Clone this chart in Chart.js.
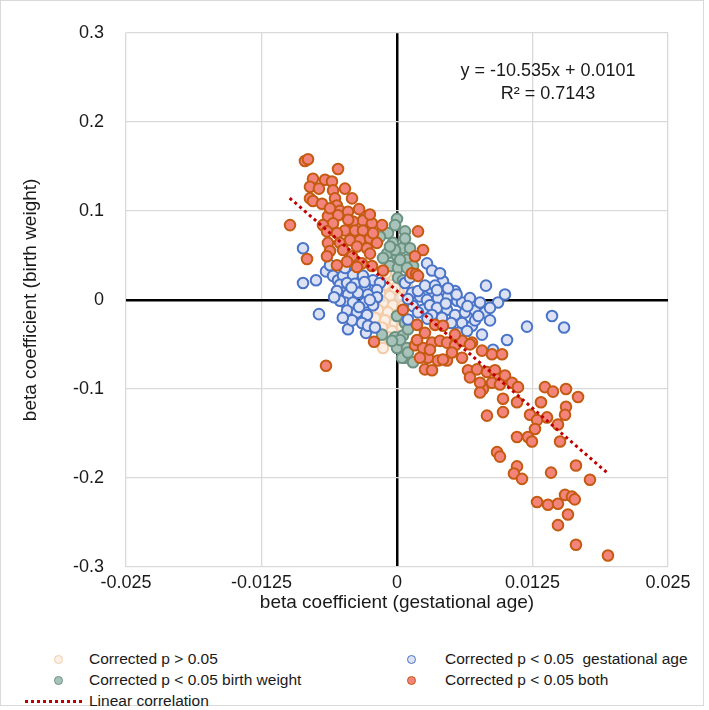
<!DOCTYPE html>
<html><head><meta charset="utf-8">
<script src="https://cdn.jsdelivr.net/npm/chart.js@4.4.1/dist/chart.umd.min.js"></script>
<style>
html,body{margin:0;padding:0;background:#fff;}
#wrap{position:relative;width:709px;height:710px;font-family:"Liberation Sans",Arial,sans-serif;color:#1a1a1a;overflow:hidden;}
#frame{position:absolute;left:0;top:0;width:704px;height:706px;border:1px solid #d9d9d9;box-sizing:border-box;}
canvas{position:absolute;left:0;top:0;}
.lg{position:absolute;font-size:15.5px;line-height:18px;white-space:pre;}
.mk{position:absolute;width:9px;height:9px;border-radius:50%;border:1.6px solid;box-sizing:border-box;}
.dl{position:absolute;left:25px;width:57px;height:0;border-top:3px dotted #C00000;}
</style></head>
<body><div id="wrap"><div id="frame"></div><canvas id="c" width="709" height="640"></canvas>
<div id="legend"></div>
</div>
<script>
// ---- data ----
const xTicks = [-0.025, -0.0125, 0, 0.0125, 0.025];
const xTickLabels = ['-0.025', '-0.0125', '0', '0.0125', '0.025'];
const yTicks = [-0.3, -0.2, -0.1, 0, 0.1, 0.2, 0.3];
const yTickLabels = ['-0.3', '-0.2', '-0.1', '0', '0.1', '0.2', '0.3'];
const xTitle = 'beta coefficient (gestational age)';
const yTitle = 'beta coefficient (birth weight)';
const seriesNames = ['Corrected p > 0.05', 'Corrected p < 0.05 birth weight', 'Corrected p < 0.05  gestational age', 'Corrected p < 0.05 both', 'Linear correlation'];
const trendSlope = -10.535;
const trendIntercept = 0.0101;
const trendR2 = 0.7143;
const trendX = [-0.0099, 0.0194];

const notSigPts = [
[-0.00046,0.028],[0.00028,0.021],[-0.00111,0.017],[-0.00018,0.013],[0.00074,0.010],[-0.00157,0.008],
[-0.00065,0.004],[0.00028,0.002],[-0.00129,-0.003],[-0.00037,-0.006],[0.00055,-0.007],[-0.00175,-0.011],
[-0.00083,-0.014],[0.00009,-0.017],[-0.00111,-0.023],[-0.00018,-0.026],[-0.00138,-0.031],[-0.00046,-0.035],
[-0.00083,-0.042],[0.00009,-0.046],[-0.00157,-0.048],[0.00120,-0.003],[-0.00203,-0.001],[-0.00175,0.016],
[0.00101,0.013],[-0.00203,-0.020],[-0.00129,-0.054],[0.00046,-0.031],[-0.00101,0.030]
];
const birthWeightPts = [
[0.00000,0.091],[0.00074,0.077],[-0.00083,0.075],[-0.00157,0.071],[0.00046,0.058],[-0.00037,0.064],
[-0.00092,0.052],[0.00000,0.049],[0.00092,0.045],[-0.00065,0.038],[0.00009,0.036],[0.00148,0.038],
[-0.00138,-0.039],[0.00000,-0.018],[0.00074,-0.026],[-0.00018,-0.042],[0.00055,-0.040],[0.00000,-0.054],
[0.00074,-0.065],[0.00148,-0.070],[-0.00018,0.084],[-0.00018,0.056],[-0.00065,0.060],[0.00028,0.045],
[-0.00129,0.047],[0.00092,0.036],[0.00101,-0.033],[0.00028,-0.045],[0.00009,0.025],[0.00055,0.022],
[0.00092,-0.054],[0.00046,-0.065],[0.00101,-0.059],[-0.00046,-0.046],[0.00074,0.069],[0.00120,0.058]
];
const gestAgePts = [
[-0.00867,0.058],[-0.00867,0.019],[-0.00747,0.022],[-0.00655,0.032],[-0.00720,-0.016],[-0.00452,-0.033],
[-0.00286,-0.037],[-0.00590,0.027],[-0.00544,0.022],[-0.00498,0.027],[-0.00406,0.028],[-0.00314,0.027],
[-0.00221,0.022],[-0.00157,0.019],[-0.00526,0.017],[-0.00461,0.019],[-0.00387,0.018],[-0.00295,0.016],
[-0.00185,0.011],[-0.00507,0.008],[-0.00452,0.006],[-0.00360,0.008],[-0.00268,0.006],[-0.00185,0.003],
[-0.00480,-0.003],[-0.00406,-0.003],[-0.00295,-0.003],[-0.00221,-0.006],[-0.00461,-0.012],[-0.00369,-0.014],
[-0.00277,-0.017],[-0.00415,-0.023],[-0.00323,-0.026],[-0.00268,-0.029],[-0.00203,-0.031],[-0.00554,0.010],
[-0.00618,0.039],[-0.00480,0.036],[-0.00526,-0.001],[0.00138,0.008],[0.00212,0.004],[0.00277,0.000],
[0.00148,-0.007],[0.00240,-0.011],[0.00101,-0.022],[0.00101,0.001],[0.00194,0.010],[0.00304,0.013],
[0.00378,0.002],[0.00470,0.004],[0.00554,-0.001],[0.00194,-0.014],[0.00304,-0.006],[0.00369,-0.009],
[0.00461,-0.011],[0.00535,-0.017],[0.00627,-0.014],[0.00720,-0.012],[0.00812,-0.014],[0.00323,-0.017],
[0.00415,-0.020],[0.00600,-0.026],[0.00692,-0.029],[0.00784,-0.039],[0.00720,-0.023],[0.00932,-0.003],
[0.00996,0.006],[0.01015,-0.045],[0.00563,-0.037],[0.00646,-0.035],[0.00277,0.041],[0.00323,0.033],
[0.00424,0.021],[0.00535,0.010],[0.00258,0.016],[0.00351,0.016],[0.00470,0.013],[0.01430,-0.018],
[0.01541,-0.031],[0.01199,-0.030],[0.00886,-0.056],[0.00858,-0.009],[0.00600,-0.003],[0.00397,0.030],
[0.00369,0.011],[0.00673,0.002],[0.00766,-0.003],[0.00858,-0.023],[0.00074,0.019],[0.00120,0.025],
[0.00821,0.016],[-0.00580,0.003],[-0.00420,0.014],[-0.00350,-0.008],[-0.00250,0.000],[-0.00300,0.020],
[-0.00500,-0.020],[0.00450,-0.004],[0.00550,0.006],[0.00650,-0.007],[0.00750,-0.018],[0.00280,-0.021],
[0.00500,-0.026]
];
const bothPts = [
[-0.00987,0.084],[-0.00849,0.156],[-0.00821,0.158],[-0.00544,0.147],[-0.00775,0.136],[-0.00803,0.127],
[-0.00664,0.135],[-0.00600,0.133],[-0.00803,0.114],[-0.00775,0.111],[-0.00590,0.123],[-0.00572,0.114],
[-0.00554,0.106],[-0.00526,0.100],[-0.00452,0.099],[-0.00544,0.095],[-0.00637,0.094],[-0.00590,0.086],
[-0.00683,0.084],[-0.00295,0.094],[-0.00314,0.089],[-0.00231,0.086],[-0.00406,0.088],[-0.00480,0.078],
[-0.00387,0.078],[-0.00314,0.078],[-0.00646,0.077],[-0.00554,0.075],[-0.00434,0.067],[-0.00341,0.067],
[-0.00249,0.069],[-0.00185,0.064],[-0.00637,0.064],[-0.00526,0.064],[-0.00369,0.060],[-0.00277,0.058],
[-0.00830,0.046],[-0.00618,0.055],[-0.00498,0.056],[-0.00249,0.052],[-0.00646,0.049],[-0.00554,0.039],
[-0.00415,0.049],[-0.00323,0.041],[-0.00231,0.038],[-0.00129,0.033],[-0.00461,0.043],[-0.00369,0.037],
[-0.00221,0.075],[-0.00138,0.084],[-0.00720,0.125],[-0.00480,0.125],[-0.00415,0.114],[-0.00692,0.108],
[-0.00618,0.103],[-0.00350,0.102],[-0.00250,0.096],[-0.00450,0.090],
[0.00194,0.077],[0.00240,0.056],[0.00166,0.049],[0.00138,0.030],[0.00175,0.029],[0.00194,0.027],
[0.00055,-0.011],[-0.00212,-0.047],[-0.00655,-0.074],[0.00185,-0.028],[0.00258,-0.037],[0.00351,-0.028],
[0.00424,-0.029],[0.00166,-0.051],[0.00240,-0.054],[0.00323,-0.048],[0.00397,-0.046],[0.00461,-0.048],
[0.00535,-0.051],[0.00600,-0.046],[0.00692,-0.048],[0.00286,-0.065],[0.00378,-0.068],[0.00461,-0.068],
[0.00212,-0.065],[0.00258,-0.078],[0.00323,-0.079],[0.00600,-0.065],[0.00655,-0.079],[0.00738,-0.078],
[0.00784,-0.057],[0.00876,-0.061],[0.00969,-0.061],[0.00830,-0.081],[0.00904,-0.079],[0.00932,-0.089],
[0.00996,-0.085],[0.01061,-0.093],[0.00876,-0.093],[0.00793,-0.100],[0.00507,-0.059],[0.00535,-0.039],
[0.00673,-0.050],[0.00673,-0.087],[0.00766,-0.093],[0.00950,-0.095],[0.01116,-0.098],[0.00766,-0.104],
[0.00978,-0.111],[0.01107,-0.115],[0.00830,-0.130],[0.00978,-0.126],[0.01365,-0.098],[0.01439,-0.103],
[0.01559,-0.100],[0.01670,-0.109],[0.01328,-0.115],[0.01559,-0.120],[0.01550,-0.129],[0.01227,-0.129],
[0.01292,-0.135],[0.01384,-0.132],[0.01273,-0.145],[0.01485,-0.140],[0.01107,-0.154],[0.01208,-0.154],
[0.01245,-0.159],[0.01504,-0.159],[0.00923,-0.171],[0.00950,-0.176],[0.01107,-0.187],[0.01079,-0.195],
[0.01153,-0.201],[0.01421,-0.194],[0.01651,-0.186],[0.01780,-0.202],[0.01550,-0.219],[0.01614,-0.221],
[0.01640,-0.224],[0.01292,-0.227],[0.01393,-0.230],[0.01485,-0.229],[0.01577,-0.241],[0.01485,-0.253],
[0.01651,-0.275],[0.01946,-0.287],[0.00185,-0.045],[0.00304,-0.056],[0.00424,-0.067]
];

// ---- styles ----
const FONT = '"Liberation Sans", Arial, sans-serif';
const TXT = '#1a1a1a';
const styles = {
  notSig: {fill: 'rgba(252,239,228,0.92)', stroke: '#F2CBA8'},
  bw: {fill: '#A8C3BA', stroke: '#6C9282'},
  ga: {fill: '#DCE1F3', stroke: '#4A74C8'},
  both: {fill: '#F2847C', stroke: '#C55A11'}
};
const toXY = pts => pts.map(p => ({x: p[0], y: p[1]}));
const ptOpts = s => ({backgroundColor: s.fill, borderColor: s.stroke, borderWidth: 2, pointRadius: 5.3, pointHoverRadius: 5.3});

const eqLines = ['y = ' + trendSlope.toFixed(3) + 'x + ' + trendIntercept.toFixed(4), 'R\u00B2 = ' + trendR2.toFixed(4)];

const eqPlugin = {
  id: 'eq',
  afterDatasetsDraw(chart) {
    const ctx = chart.ctx;
    ctx.save();
    ctx.font = '18px ' + FONT;
    ctx.fillStyle = TXT;
    ctx.textAlign = 'center';
    ctx.textBaseline = 'middle';
    ctx.fillText(eqLines[0], 548, 71);
    ctx.fillText(eqLines[1], 548, 94);
    ctx.restore();
  }
};

const isZero = c => c.tick && Math.abs(c.tick.value) < 1e-12;

new Chart(document.getElementById('c'), {
  type: 'scatter',
  data: {
    datasets: [
      {label: seriesNames[4], data: trendX.map(x => ({x, y: trendSlope * x + trendIntercept})), showLine: true,
       borderColor: '#C00000', borderWidth: 3, borderDash: [3, 3.4], pointRadius: 0, fill: false},
      Object.assign({label: seriesNames[3], data: toXY(bothPts)}, ptOpts(styles.both)),
      Object.assign({label: seriesNames[2], data: toXY(gestAgePts)}, ptOpts(styles.ga)),
      Object.assign({label: seriesNames[1], data: toXY(birthWeightPts)}, ptOpts(styles.bw)),
      Object.assign({label: seriesNames[0], data: toXY(notSigPts)}, ptOpts(styles.notSig))
    ]
  },
  options: {
    responsive: false,
    animation: false,
    devicePixelRatio: 1,
    layout: {padding: {top: 29, right: 41, bottom: 0, left: 0}},
    plugins: {legend: {display: false}, tooltip: {enabled: false}},
    scales: {
      x: {
        type: 'linear', min: -0.025, max: 0.025,
        afterBuildTicks: s => { s.ticks = xTicks.map(v => ({value: v})); },
        afterFit: s => { s.height = 73; },
        ticks: {callback: (v, i) => xTickLabels[i], font: {size: 18, family: FONT}, color: TXT, padding: 5, maxRotation: 0, autoSkip: false},
        grid: {drawTicks: false, color: c => isZero(c) ? '#000' : '#d9d9d9', lineWidth: c => isZero(c) ? 2.5 : 1.3},
        border: {display: false},
        title: {display: true, text: xTitle, font: {size: 19, family: FONT}, color: TXT, padding: {top: 0, bottom: 26}}
      },
      y: {
        type: 'linear', min: -0.3, max: 0.3,
        afterBuildTicks: s => { s.ticks = yTicks.map(v => ({value: v})); },
        afterFit: s => { s.width = 126; },
        ticks: {callback: (v, i) => yTickLabels[i], font: {size: 18, family: FONT}, color: TXT, padding: 22, autoSkip: false},
        grid: {drawTicks: false, color: c => isZero(c) ? '#000' : '#d9d9d9', lineWidth: c => isZero(c) ? 2.5 : 1.3},
        border: {display: false},
        title: {display: true, text: yTitle, font: {size: 19, family: FONT}, color: TXT, padding: {top: 19, bottom: 0}}
      }
    }
  },
  plugins: [eqPlugin]
});

// ---- legend (HTML) ----
const legendItems = [
  {name: seriesNames[0], st: styles.notSig, mx: 58, tx: 89, cy: 659},
  {name: seriesNames[2], st: styles.ga, mx: 411, tx: 445, cy: 659},
  {name: seriesNames[1], st: styles.bw, mx: 58, tx: 89, cy: 680},
  {name: seriesNames[3], st: styles.both, mx: 411, tx: 445, cy: 680},
  {name: seriesNames[4], st: null, mx: 0, tx: 89, cy: 701}
];
const lg = document.getElementById('legend');
legendItems.forEach(it => {
  if (it.st) {
    const m = document.createElement('div');
    m.className = 'mk';
    m.style.left = (it.mx - 4.5) + 'px';
    m.style.top = (it.cy - 4.5) + 'px';
    m.style.background = it.st.fill;
    m.style.borderColor = it.st.stroke;
    lg.appendChild(m);
  } else {
    const d = document.createElement('div');
    d.className = 'dl';
    d.style.top = (it.cy - 1.5) + 'px';
    lg.appendChild(d);
  }
  const t = document.createElement('div');
  t.className = 'lg';
  t.style.left = it.tx + 'px';
  t.style.top = (it.cy - 9) + 'px';
  t.textContent = it.name;
  lg.appendChild(t);
});
</script>
</body></html>
